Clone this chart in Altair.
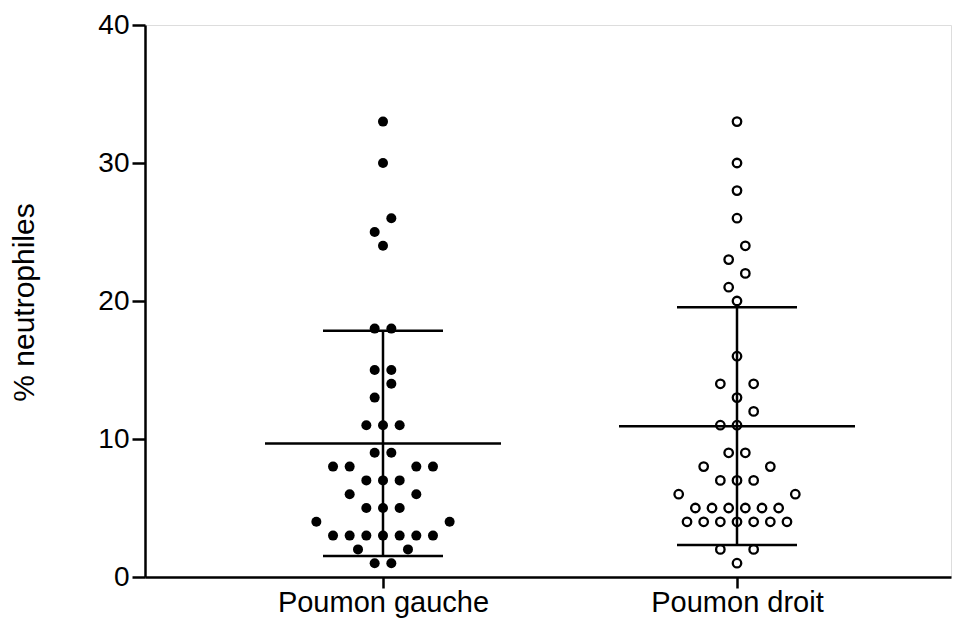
import altair as alt
import pandas as pd
import numpy as np

# ---------------- data ----------------
groups = ["Poumon gauche", "Poumon droit"]
gauche = [33, 30, 26, 25, 24, 18, 18, 15, 15, 14, 13, 11, 11, 11, 9, 9,
          8, 8, 8, 8, 7, 7, 7, 6, 6, 5, 5, 5, 4, 4,
          3, 3, 3, 3, 3, 3, 3, 2, 2, 1, 1]
droit = [33, 30, 28, 26, 24, 23, 22, 21, 20, 16, 14, 14, 13, 12, 11, 11,
         9, 9, 8, 8, 7, 7, 7, 6, 6, 5, 5, 5, 5, 5, 5,
         4, 4, 4, 4, 4, 4, 4, 2, 2, 1]
y_ticks = [0, 10, 20, 30, 40]

# ---------------- layout ----------------
W, H = 806, 552
GROUP_PX = 354.0          # pixel distance between group centres
LEFT_PX = 238.0           # first group centre from plot left
x_dom = [-LEFT_PX / GROUP_PX, (W - LEFT_PX) / GROUP_PX]
STEP = 8.33 / GROUP_PX    # half dot spacing, in x units
MEAN_HALF = 118 / GROUP_PX
CAP_HALF = 60 / GROUP_PX


def swarm(values, step):
    """Simple binned dot-plot layout: points in 2-unit bands are laid side by side."""
    bins = {}
    for v in sorted(values):
        bins.setdefault(int((v - 1) // 2), []).append(v)
    out = []
    for vs in bins.values():
        n = len(vs)
        slots = [(i - (n - 1) / 2) * 2 for i in range(n)]
        slots.sort(key=lambda s: (abs(s), s))
        for v, s in zip(vs, slots):
            out.append((v, s * step))
    return out


rows = []
stats = []
for gi, (name, vals) in enumerate(zip(groups, [gauche, droit])):
    for v, off in swarm(vals, STEP):
        rows.append({"group": name, "gi": gi, "x": gi + off, "value": v})
    arr = np.array(vals, dtype=float)
    m, sd = arr.mean(), arr.std(ddof=1)
    stats.append({"group": name, "gi": gi, "mean": m, "lo": m - sd, "hi": m + sd})

pts = pd.DataFrame(rows)
st = pd.DataFrame(stats)

# horizontal segments: mean lines and SD caps
segs = []
for _, r in st.iterrows():
    segs.append({"x1": r.gi - MEAN_HALF, "x2": r.gi + MEAN_HALF, "y": r["mean"]})
    segs.append({"x1": r.gi - CAP_HALF, "x2": r.gi + CAP_HALF, "y": r["lo"]})
    segs.append({"x1": r.gi - CAP_HALF, "x2": r.gi + CAP_HALF, "y": r["hi"]})
segs = pd.DataFrame(segs)

label_expr = " : ".join(
    [f"datum.value == {i} ? '{g}'" for i, g in enumerate(groups)]) + " : ''"

FONT = "Liberation Sans"

x_scale = alt.Scale(domain=x_dom, nice=False, zero=False)
y_scale = alt.Scale(domain=[0, 40], nice=False)

x_axis = alt.Axis(values=[0, 1], labelExpr=label_expr, title=None, grid=False,
                  domainColor="black", domainWidth=2.5, tickColor="black",
                  tickWidth=2.5, tickSize=11, labelFontSize=29, labelFont=FONT,
                  labelColor="black", labelPadding=0, labelFlush=False,
                  labelOverlap=False, labelLimit=0)
y_axis = alt.Axis(values=y_ticks, title="% neutrophiles", grid=False,
                  domainColor="black", domainWidth=2.5, tickColor="black",
                  tickWidth=2.5, tickSize=13, labelFontSize=28, labelFont=FONT,
                  labelColor="black", labelPadding=3,
                  titleFont=FONT, titleFontSize=30, titleFontWeight="normal",
                  titleColor="black", titleAngle=270, titleAlign="center",
                  titleBaseline="alphabetic", titleX=-112, titleY=277)

base_x = alt.X("x:Q", scale=x_scale, axis=x_axis)
base_y = alt.Y("value:Q", scale=y_scale, axis=y_axis)

filled = alt.Chart(pts[pts.gi == 0]).mark_circle(
    size=100, color="black", opacity=1).encode(x=base_x, y=base_y)
hollow = alt.Chart(pts[pts.gi == 1]).mark_point(
    shape="circle", size=72, filled=False, color="black", strokeWidth=2.3,
    opacity=1).encode(x=alt.X("x:Q", scale=x_scale),
                      y=alt.Y("value:Q", scale=y_scale))

vert = alt.Chart(st).mark_rule(color="black", strokeWidth=2.5).encode(
    x=alt.X("gi:Q", scale=x_scale),
    y=alt.Y("lo:Q", scale=y_scale),
    y2="hi:Q")
horiz = alt.Chart(segs).mark_rule(color="black", strokeWidth=2.5).encode(
    x=alt.X("x1:Q", scale=x_scale),
    x2="x2:Q",
    y=alt.Y("y:Q", scale=y_scale))

chart = alt.layer(filled, hollow, vert, horiz).properties(
    width=W, height=H,
    autosize=alt.AutoSizeParams(type="none"),
    padding={"left": 137, "top": 17, "right": 1, "bottom": 41},
).configure_view(stroke=None).configure(background="white")

chart.save("out.html", embed_options={"renderer": "svg", "actions": False})
